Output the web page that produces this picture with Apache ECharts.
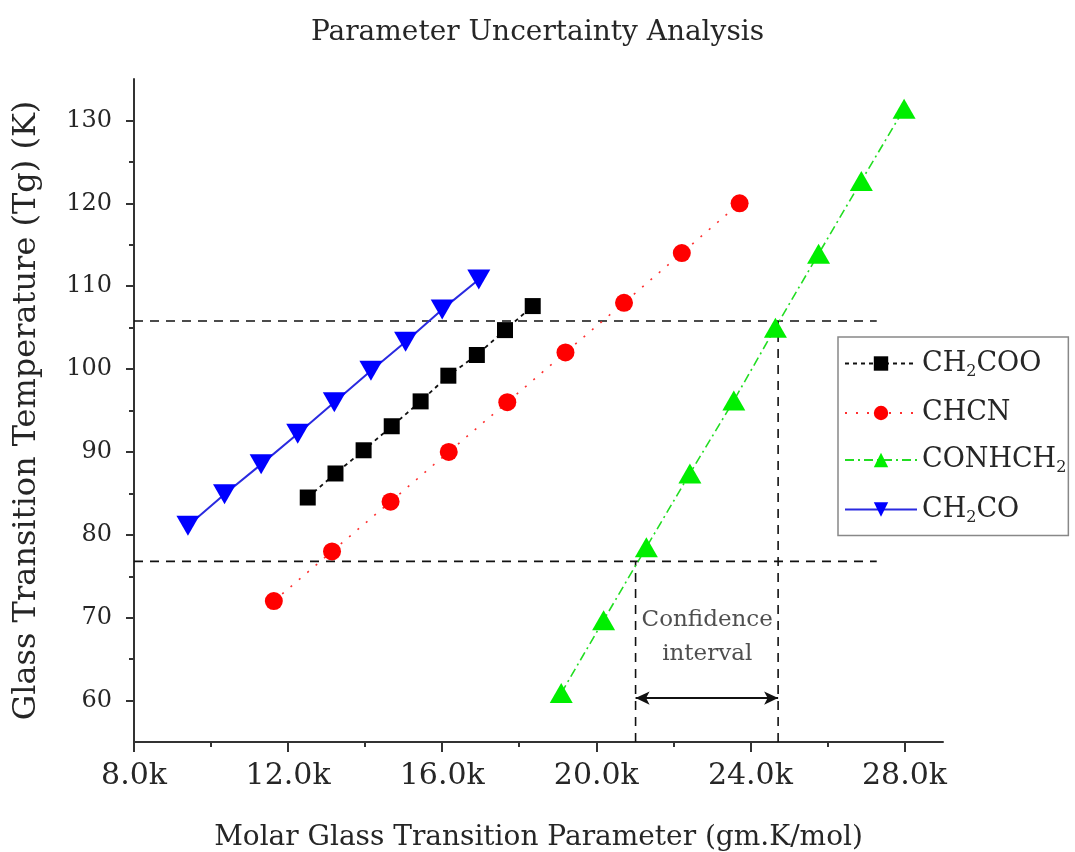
<!DOCTYPE html>
<html><head><meta charset="utf-8">
<script src="https://cdn.jsdelivr.net/npm/echarts@6/dist/echarts.min.js"></script>
<style>html,body{margin:0;padding:0;background:#fff}#c{width:1075px;height:852px}</style>
</head><body><div id="c"></div>
<script>
// ---- data ----
const seriesNames = ['CH2COO', 'CHCN', 'CONHCH2', 'CH2CO'];
const xCH2COO = [12510, 13230, 13960, 14690, 15440, 16160, 16900, 17630, 18350];
const yCH2COO = [84.5, 87.4, 90.2, 93.1, 96.1, 99.2, 101.7, 104.7, 107.6];
const xCHCN = [11630, 13140, 14660, 16170, 17690, 19200, 20720, 22220, 23720];
const yCHCN = [72, 78, 84, 90, 96, 102, 108, 114, 120];
const xCONHCH2 = [19090, 20190, 21300, 22430, 23570, 24650, 25770, 26880, 27990];
const yCONHCH2 = [60.9, 69.7, 78.5, 87.4, 96.2, 105.0, 113.9, 122.7, 131.4];
const xCH2CO = [9400, 10350, 11300, 12250, 13200, 14150, 15050, 16000, 16950];
const yCH2CO = [81.1, 84.9, 88.5, 92.2, 96.0, 99.8, 103.3, 107.2, 110.8];

const xMajorTicks = [8000, 12000, 16000, 20000, 24000, 28000];
const xMinorTicks = [10000, 14000, 18000, 22000, 26000];
const yMajorTicks = [60, 70, 80, 90, 100, 110, 120, 130];
const yMinorTicks = [65, 75, 85, 95, 105, 115, 125];
const xRange = [8000, 29000];
const yRange = [55, 135];

// confidence-interval guides
const guideY = [76.8, 105.8];
const guideXEnd = 27280;
const ciX = [21020, 24720];
const arrowY = 60.3;
const ciText = ['Confidence', 'interval'];
const ciTextPos = [22880, 67.7];

const titleText = 'Parameter Uncertainty Analysis';
const xName = 'Molar Glass Transition Parameter (gm.K/mol)';
const yName = 'Glass Transition Temperature (Tg) (K)';

// ---- chart ----
const FONT = 'DejaVu Serif';
const TXT = '#262626';
const zip = (xs, ys) => xs.map((x, i) => [x, ys[i]]);
const legendRich = {
  'CH2COO': '{n|CH}{s|2}{n|COO}',
  'CHCN': '{n|CHCN}',
  'CONHCH2': '{n|CONHCH}{s|2}',
  'CH2CO': '{n|CH}{s|2}{n|CO}'
};

const baseAxis = (range) => ({
  type: 'value', min: range[0], max: range[1], splitLine: {show: false}
});

const guideSeries = [];
guideY.forEach((gy, i) => {
  guideSeries.push({
    type: 'line', silent: true, symbol: 'none', z: 1,
    data: [[xRange[0], gy], [guideXEnd, gy]],
    lineStyle: {color: '#111', width: 1.6, type: [9, 7]}
  });
  guideSeries.push({
    type: 'line', silent: true, symbol: 'none', z: 1,
    data: [[ciX[i], yRange[0]], [ciX[i], guideY[i]]],
    lineStyle: {color: '#111', width: 1.6, type: [9, 7]}
  });
});
guideSeries.push({
  type: 'line', silent: true, symbol: 'none', z: 1,
  data: [[ciX[0], arrowY], [ciX[1], arrowY]],
  lineStyle: {opacity: 0},
  markLine: {
    silent: true, symbol: ['arrow', 'arrow'], symbolSize: [10, 14],
    label: {show: false},
    lineStyle: {color: '#111', type: 'solid', width: 2},
    data: [[{coord: [ciX[0], arrowY]}, {coord: [ciX[1], arrowY]}]]
  }
});
guideSeries.push({
  type: 'scatter', silent: true, symbolSize: 1, z: 1,
  itemStyle: {color: 'rgba(0,0,0,0)'},
  data: [ciTextPos],
  label: {
    show: true, position: 'inside', formatter: ciText.join('\n'),
    fontFamily: FONT, fontSize: 23, lineHeight: 34, color: '#222'
  }
});

const option = {
  backgroundColor: '#fff',
  animation: false,
  title: {
    text: titleText, left: 'center', top: 14,
    textStyle: {fontFamily: FONT, fontSize: 28, fontWeight: 'normal', color: TXT}
  },
  grid: {left: 134, right: 132, top: 79, bottom: 110, containLabel: false, outerBoundsMode: 'none'},
  legend: {
    data: seriesNames,
    orient: 'vertical', left: 838, top: 337,
    itemWidth: 72, itemHeight: 18, itemGap: 20,
    padding: [13, 2, 10, 6],
    borderColor: '#888', borderWidth: 1.5,
    formatter: n => legendRich[n],
    textStyle: {
      fontFamily: FONT, fontSize: 27, color: TXT,
      rich: {
        n: {fontFamily: FONT, fontSize: 27, color: TXT, lineHeight: 32},
        s: {fontFamily: FONT, fontSize: 16, color: TXT, verticalAlign: 'bottom', lineHeight: 12, padding: [0, 0, 0, 0]}
      }
    }
  },
  xAxis: [
    Object.assign(baseAxis(xRange), {
      interval: 1000,
      name: xName, nameLocation: 'middle', nameGap: 82,
      nameTextStyle: {fontFamily: FONT, fontSize: 28, color: TXT},
      axisLine: {show: true, lineStyle: {color: '#333', width: 2}},
      axisTick: {show: true, customValues: xMajorTicks, length: 10, lineStyle: {color: '#333', width: 2}},
      axisLabel: {customValues: xMajorTicks, margin: 19, fontFamily: FONT, fontSize: 30, color: TXT,
        formatter: v => (v / 1000).toFixed(1) + 'k'}
    }),
    Object.assign(baseAxis(xRange), {
      interval: 1000, position: 'bottom',
      axisLine: {show: false},
      axisTick: {show: true, customValues: xMinorTicks, length: 5, lineStyle: {color: '#333', width: 2}},
      axisLabel: {show: false}
    })
  ],
  yAxis: [
    Object.assign(baseAxis(yRange), {
      interval: 5,
      name: yName, nameLocation: 'middle', nameGap: 91,
      nameTextStyle: {fontFamily: FONT, fontSize: 32, color: TXT},
      axisLine: {show: true, lineStyle: {color: '#333', width: 2}},
      axisTick: {show: true, customValues: yMajorTicks, length: 8, lineStyle: {color: '#333', width: 2}},
      axisLabel: {customValues: yMajorTicks, margin: 22, fontFamily: FONT, fontSize: 24, color: TXT}
    }),
    Object.assign(baseAxis(yRange), {
      interval: 5, position: 'left',
      axisLine: {show: false},
      axisTick: {show: true, customValues: yMinorTicks, length: 5, lineStyle: {color: '#333', width: 2}},
      axisLabel: {show: false}
    })
  ],
  series: guideSeries.concat([
    {
      name: 'CH2COO', type: 'line', data: zip(xCH2COO, yCH2COO), z: 3,
      symbol: 'rect', symbolSize: 16,
      itemStyle: {color: '#000'},
      lineStyle: {color: '#111', width: 1.8, type: [4, 4]}
    },
    {
      name: 'CHCN', type: 'line', data: zip(xCHCN, yCHCN), z: 3,
      symbol: 'circle', symbolSize: 18,
      itemStyle: {color: '#ff0000'},
      lineStyle: {color: '#ff3030', width: 1.6, type: [2, 9]}
    },
    {
      name: 'CONHCH2', type: 'line', data: zip(xCONHCH2, yCONHCH2), z: 3,
      symbol: 'triangle', symbolSize: [23, 20],
      itemStyle: {color: '#00ee00'},
      lineStyle: {color: '#22dd22', width: 1.6, type: [9, 4, 2, 4]}
    },
    {
      name: 'CH2CO', type: 'line', data: zip(xCH2CO, yCH2CO), z: 3,
      symbol: 'triangle', symbolRotate: 180, symbolSize: [23, 20],
      itemStyle: {color: '#0000ff'},
      lineStyle: {color: '#2a2ae0', width: 2, type: 'solid'}
    }
  ])
};

const chart = echarts.init(document.getElementById('c'), null, {renderer: 'canvas'});
chart.setOption(option);
</script>
</body></html>
